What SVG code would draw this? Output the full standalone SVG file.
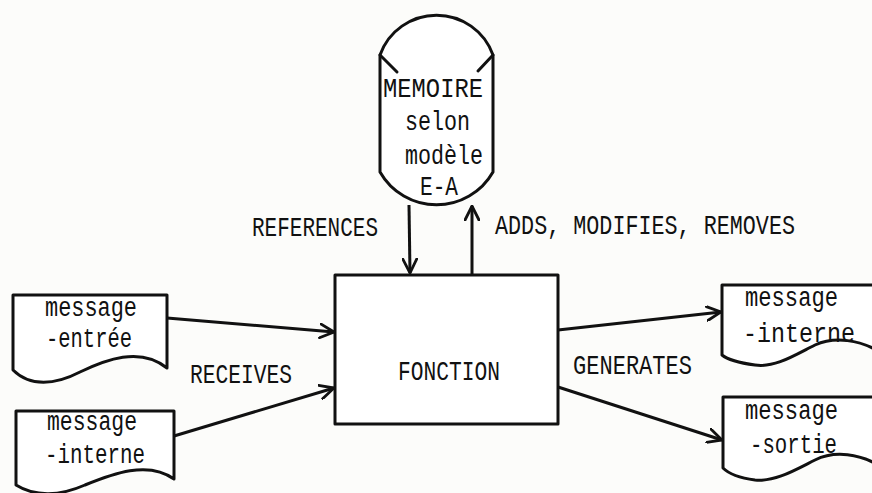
<svg xmlns="http://www.w3.org/2000/svg" width="872" height="493" viewBox="0 0 872 493">
<style>
.s{fill:none;stroke:#111;stroke-width:3;stroke-linejoin:round;stroke-linecap:round}
.b{fill:#fff;stroke:#111;stroke-width:3;stroke-linejoin:round}
.t{font-family:"Liberation Mono","DejaVu Sans Mono",monospace;font-size:27px;fill:#111}
.c{stroke:#111;stroke-width:3;fill:none}
</style>
<defs>
<marker id="ah" viewBox="0 0 16 16" refX="15" refY="8" markerWidth="16" markerHeight="16" markerUnits="userSpaceOnUse" orient="auto">
<path d="M1,1 L15,8 L1,15" fill="none" stroke="#111" stroke-width="2.8" stroke-linecap="round"/>
</marker>
</defs>
<rect width="872" height="493" fill="#fcfcfa"/>

<g id="memoire">
<path class="b" d="M380,172 L380,55 A60,60 0 0 1 493,55 L493,172 A65,65 0 0 1 380,172 Z"/>
<path class="s" d="M380,55 L397,72 M493,55 L478,71"/>
<text class="t" x="383" y="97" textLength="100" lengthAdjust="spacingAndGlyphs">MEMOIRE</text>
<text class="t" x="405" y="130" textLength="65" lengthAdjust="spacingAndGlyphs">selon</text>
<text class="t" x="405" y="164" textLength="78" lengthAdjust="spacingAndGlyphs">modèle</text>
<text class="t" x="420" y="195" textLength="38" lengthAdjust="spacingAndGlyphs">E-A</text>
</g>

<g id="fonction">
<rect class="b" x="335" y="275" width="223" height="149"/>
<text class="t" x="398" y="380" textLength="102" lengthAdjust="spacingAndGlyphs">FONCTION</text>
</g>

<g id="msg-entree">
<path class="b" d="M13,295 L167,295 L167,368 C140,346 105,360 80,372 C55,385 30,387 13,370 Z"/>
<text class="t" x="45" y="316" textLength="92" lengthAdjust="spacingAndGlyphs">message</text>
<text class="t" x="46" y="347" textLength="86" lengthAdjust="spacingAndGlyphs">-entrée</text>
</g>

<g id="msg-interne-in">
<path class="b" d="M16,411 L174,411 L174,479 C148,460 112,474 85,485 C60,496 35,497 16,485 Z"/>
<text class="t" x="47" y="430" textLength="90" lengthAdjust="spacingAndGlyphs">message</text>
<text class="t" x="45" y="463" textLength="100" lengthAdjust="spacingAndGlyphs">-interne</text>
</g>

<g id="msg-interne-out">
<path class="b" d="M722,285 L880,285 L880,352 C860,340 835,336 815,345 C795,355 775,368 755,365 C740,363 728,360 722,355 Z"/>
<text class="t" x="745" y="306" textLength="93" lengthAdjust="spacingAndGlyphs">message</text>
<text class="t" x="743" y="342" textLength="112" lengthAdjust="spacingAndGlyphs">-interne</text>
</g>

<g id="msg-sortie">
<path class="b" d="M723,397 L880,397 L880,466 C860,454 835,450 815,460 C795,470 775,482 755,480 C740,478 729,474 723,468 Z"/>
<text class="t" x="745" y="419" textLength="93" lengthAdjust="spacingAndGlyphs">message</text>
<text class="t" x="750" y="453" textLength="87" lengthAdjust="spacingAndGlyphs">-sortie</text>
</g>

<g id="connectors">
<line class="c" x1="409" y1="205" x2="410" y2="273" marker-end="url(#ah)"/>
<line class="c" x1="472" y1="274" x2="472" y2="206" marker-end="url(#ah)"/>
<line class="c" x1="167" y1="318" x2="334" y2="332" marker-end="url(#ah)"/>
<line class="c" x1="174" y1="436" x2="334" y2="388" marker-end="url(#ah)"/>
<line class="c" x1="558" y1="330" x2="721" y2="312" marker-end="url(#ah)"/>
<line class="c" x1="558" y1="387" x2="722" y2="440" marker-end="url(#ah)"/>
</g>

<g id="labels">
<text class="t" x="252" y="236" textLength="126" lengthAdjust="spacingAndGlyphs">REFERENCES</text>
<text class="t" x="495" y="234" textLength="300" lengthAdjust="spacingAndGlyphs">ADDS, MODIFIES, REMOVES</text>
<text class="t" x="190" y="383" textLength="102" lengthAdjust="spacingAndGlyphs">RECEIVES</text>
<text class="t" x="573" y="374" textLength="119" lengthAdjust="spacingAndGlyphs">GENERATES</text>
</g>
</svg>
